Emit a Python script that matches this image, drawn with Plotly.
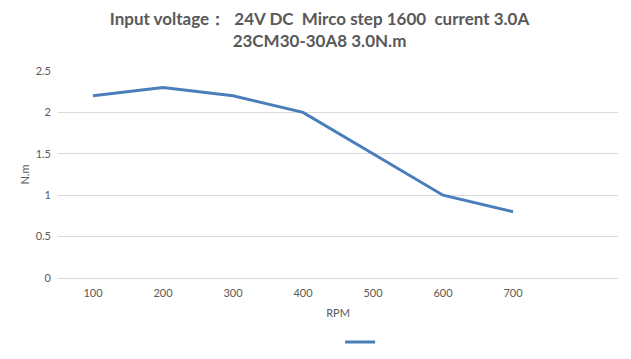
import plotly.graph_objects as go

categories = ["100", "200", "300", "400", "500", "600", "700", " "]
rpm_labels = ["100", "200", "300", "400", "500", "600", "700"]
torque = [2.2, 2.3, 2.2, 2.0, 1.5, 1.0, 0.8]
y_ticks = [0, 0.5, 1, 1.5, 2, 2.5]
y_tick_text = ["0", "0.5", "1", "1.5", "2", "2.5"]

gray = "#595959"
font_family = "Lato, Carlito, Calibri, sans-serif"

fig = go.Figure()
fig.add_trace(go.Scatter(
    x=rpm_labels, y=torque, mode="lines", name="",
    line=dict(color="#4A7EBB", width=3), showlegend=True,
))

fig.update_layout(
    width=623, height=351,
    margin=dict(l=50, r=13, t=63, b=81, autoexpand=False),
    paper_bgcolor="white", plot_bgcolor="white",
    title=dict(
        text="Input voltage：  24V DC  Mirco step 1600  current 3.0A<br>23CM30-30A8 3.0N.m",
        x=0.5, xanchor="center", y=0.951, yanchor="top",
        font=dict(family=font_family, size=17, color=gray, weight="bold"),
    ),
    font=dict(family=font_family, size=11, color=gray),
    xaxis=dict(
        type="category", categoryorder="array", categoryarray=categories,
        range=[-0.5, 7.5], showgrid=False, showline=False, zeroline=False,
        ticks="", tickfont=dict(size=11, color=gray), automargin=False,
        ticklabelstandoff=7,
        title=dict(text="RPM", font=dict(size=11, color=gray), standoff=11),
    ),
    yaxis=dict(
        range=[0, 2.5], tickvals=y_ticks, ticktext=y_tick_text,
        showgrid=True, gridcolor="#D9D9D9", gridwidth=1,
        zeroline=True, zerolinecolor="#D9D9D9", zerolinewidth=1,
        showline=False, ticks="", tickfont=dict(size=11, color=gray),
        ticklabelstandoff=6, automargin=False,
        title=dict(text="N.m", font=dict(size=11, color=gray), standoff=3),
    ),
    legend=dict(
        orientation="h", x=0.544, xanchor="center", y=-0.239, yanchor="top",
        itemwidth=30, font=dict(size=11),
    ),
)

fig.write_html("out.html")
